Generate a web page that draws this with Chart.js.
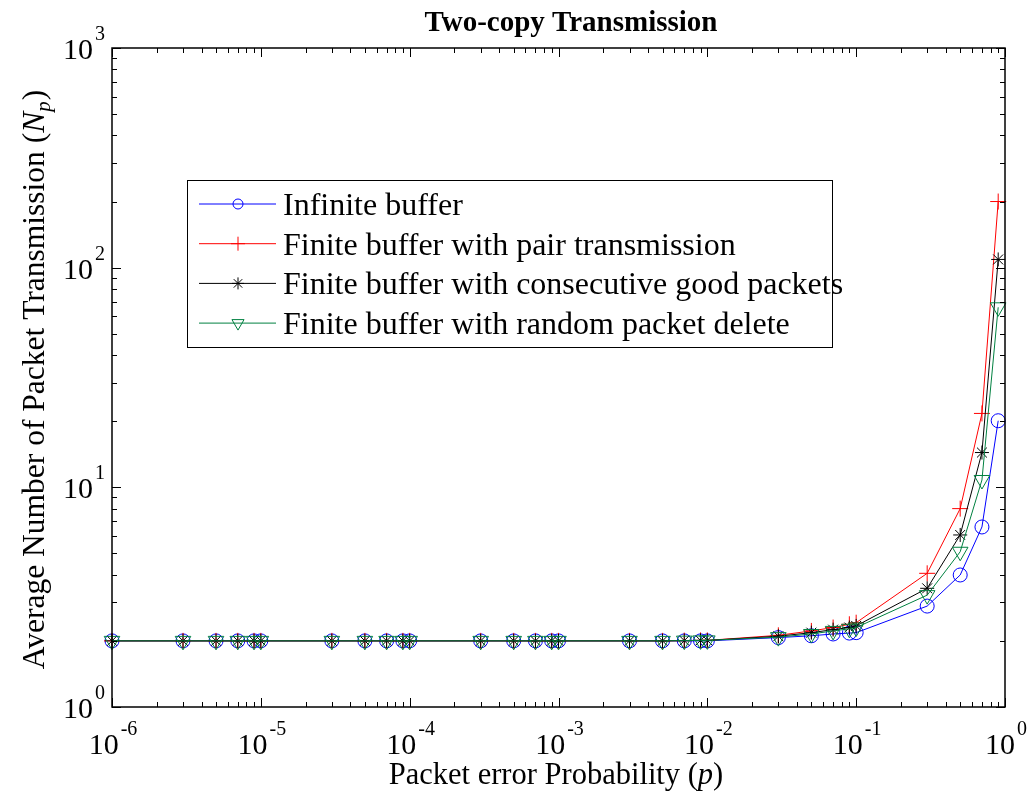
<!DOCTYPE html>
<html>
<head>
<meta charset="utf-8">
<script src="https://cdn.jsdelivr.net/npm/chart.js@4/dist/chart.umd.min.js"></script>
<style>
  html, body { margin: 0; padding: 0; background: #fff; }
  #wrap { width: 1029px; height: 799px; }
</style>
</head>
<body>
<div id="wrap"><canvas id="chart" width="1029" height="799"></canvas></div>
<script>
// packet error probability p
const pValues = [1e-6, 3e-6, 5e-6, 7e-6, 9e-6, 1e-5, 3e-5, 5e-5, 7e-5, 9e-5,
                 1e-4, 3e-4, 5e-4, 7e-4, 9e-4, 1e-3, 3e-3, 5e-3, 7e-3, 9e-3,
                 1e-2, 3e-2, 5e-2, 7e-2, 9e-2, 0.1, 0.3, 0.5, 0.7, 0.9];

const infiniteBuffer   = [2, 2, 2, 2, 2, 2, 2, 2, 2, 2, 2, 2, 2, 2, 2, 2, 2, 2, 2, 2,
                          2.0, 2.07, 2.11, 2.15, 2.17, 2.18, 2.88, 3.99, 6.6, 20.1];
const pairTransmission = [2, 2, 2, 2, 2, 2, 2, 2, 2, 2, 2, 2, 2, 2, 2, 2, 2, 2, 2.005, 2.01,
                          2.01, 2.12, 2.22, 2.3, 2.38, 2.42, 4.06, 8.0, 21.7, 200];
const consecutiveGood  = [2, 2, 2, 2, 2, 2, 2, 2, 2, 2, 2, 2, 2, 2, 2, 2, 2, 2, 2.005, 2.01,
                          2.01, 2.1, 2.18, 2.25, 2.3, 2.34, 3.47, 6.07, 14.4, 109];
const randomDelete     = [2, 2, 2, 2, 2, 2, 2, 2, 2, 2, 2, 2, 2, 2, 2, 2, 2, 2, 2.005, 2.01,
                          2.01, 2.08, 2.15, 2.22, 2.27, 2.3, 3.23, 5.09, 10.8, 66];

const seriesLabels = ['Infinite buffer', 'Finite buffer with pair transmission',
                      'Finite buffer with consecutive good packets', 'Finite buffer with random packet delete'];

// decade exponents for tick labels
const xTickExponents = [-6, -5, -4, -3, -2, -1, 0];
const yTickExponents = [0, 1, 2, 3];

const serif = '"Liberation Serif", "Times New Roman", serif';

function toPoints(values) {
    return pValues.map((p, i) => ({ x: p, y: values[i] }));
}

const styles = [
    { color: '#0000ff', pointStyle: 'circle', radius: 7, rotation: 0, legendRadius: 5 },
    { color: '#ff0000', pointStyle: 'cross', radius: 8, rotation: 0, legendRadius: 7 },
    { color: '#000000', pointStyle: 'star', radius: 7, rotation: 0, legendRadius: 6 },
    { color: '#008040', pointStyle: 'triangle', radius: 9, rotation: 180, legendRadius: 7 },
];
const seriesData = [infiniteBuffer, pairTransmission, consecutiveGood, randomDelete];

const datasets = seriesData.map((values, i) => ({
    label: seriesLabels[i],
    data: toPoints(values),
    borderColor: styles[i].color,
    backgroundColor: 'rgba(0,0,0,0)',
    pointBorderColor: styles[i].color,
    pointBackgroundColor: 'rgba(0,0,0,0)',
    pointStyle: styles[i].pointStyle,
    pointRadius: styles[i].radius,
    pointRotation: styles[i].rotation,
    pointBorderWidth: 1,
    borderWidth: 1,
    tension: 0,
    clip: false,
    order: 3 - i,
}));

function drawPower(ctx, exp, x, baseY, align) {
    ctx.font = '30px ' + serif;
    const w1 = ctx.measureText('10').width;
    ctx.font = '20px ' + serif;
    const w2 = ctx.measureText(String(exp)).width;
    let start = align === 'center' ? x - (w1 + w2) / 2 : x - (w1 + w2 + 2);
    ctx.textAlign = 'left';
    ctx.textBaseline = 'alphabetic';
    ctx.font = '30px ' + serif;
    ctx.fillText('10', start, baseY);
    ctx.font = '20px ' + serif;
    ctx.fillText(String(exp), start + w1 + 2, baseY - 19);
}

const matlabFrame = {
    id: 'matlabFrame',
    afterDatasetsDraw(chart) {
        const { ctx, chartArea: a, scales } = chart;
        const xs = scales.x, ys = scales.y;
        ctx.save();
        ctx.strokeStyle = '#000';
        ctx.fillStyle = '#000';

        // ticks, inside, on all sides
        ctx.lineWidth = 1;
        ctx.beginPath();
        for (let d = -6; d <= 0; d++) {
            for (let m = 1; m <= 9; m++) {
                const v = m * Math.pow(10, d);
                if (v > 1.0000001) break;
                const px = Math.round(xs.getPixelForValue(v)) + 0.5;
                const len = m === 1 ? 9 : 5;
                ctx.moveTo(px, a.bottom); ctx.lineTo(px, a.bottom - len);
                ctx.moveTo(px, a.top); ctx.lineTo(px, a.top + len);
            }
        }
        for (let d = 0; d <= 3; d++) {
            for (let m = 1; m <= 9; m++) {
                const v = m * Math.pow(10, d);
                if (v > 1000.0001) break;
                const py = Math.round(ys.getPixelForValue(v)) + 0.5;
                const len = m === 1 ? 9 : 5;
                ctx.moveTo(a.left, py); ctx.lineTo(a.left + len, py);
                ctx.moveTo(a.right, py); ctx.lineTo(a.right - len, py);
            }
        }
        ctx.stroke();

        // box
        ctx.lineWidth = 1.5;
        ctx.strokeRect(a.left, a.top, a.right - a.left, a.bottom - a.top);

        // tick labels
        xTickExponents.forEach((e) => {
            drawPower(ctx, e, xs.getPixelForValue(Math.pow(10, e)), 754, 'center');
        });
        yTickExponents.forEach((e) => {
            drawPower(ctx, e, 105, ys.getPixelForValue(Math.pow(10, e)) + 11, 'right');
        });

        // title
        ctx.font = 'bold 29px ' + serif;
        ctx.textAlign = 'center';
        ctx.textBaseline = 'alphabetic';
        ctx.fillText('Two-copy Transmission', 571, 31);

        // x label
        const xa = 'Packet error Probability (';
        ctx.font = '30.5px ' + serif;
        const wa = ctx.measureText(xa).width;
        ctx.font = 'italic 30.5px ' + serif;
        const wp = ctx.measureText('p').width;
        ctx.font = '30.5px ' + serif;
        const wc = ctx.measureText(')').width;
        let sx = 556 - (wa + wp + wc) / 2;
        ctx.textAlign = 'left';
        ctx.fillText(xa, sx, 784);
        ctx.font = 'italic 30.5px ' + serif;
        ctx.fillText('p', sx + wa, 784);
        ctx.font = '30.5px ' + serif;
        ctx.fillText(')', sx + wa + wp, 784);

        // y label, rotated
        ctx.save();
        ctx.translate(44, 380);
        ctx.rotate(-Math.PI / 2);
        const ya = 'Average Number of Packet Transmission (';
        ctx.font = '31.5px ' + serif;
        const wya = ctx.measureText(ya).width;
        ctx.font = 'italic 31.5px ' + serif;
        const wN = ctx.measureText('N').width;
        ctx.font = 'italic 21px ' + serif;
        const wsub = ctx.measureText('p').width;
        ctx.font = '31.5px ' + serif;
        const wyc = ctx.measureText(')').width;
        let sy = -(wya + wN + wsub + wyc) / 2;
        ctx.fillText(ya, sy, 0);
        ctx.font = 'italic 31.5px ' + serif;
        ctx.fillText('N', sy + wya, 0);
        ctx.font = 'italic 21px ' + serif;
        ctx.fillText('p', sy + wya + wN, 6);
        ctx.font = '31.5px ' + serif;
        ctx.fillText(')', sy + wya + wN + wsub + 1, 0);
        ctx.restore();

        // legend
        ctx.fillStyle = '#fff';
        ctx.fillRect(187, 180, 645, 167);
        ctx.strokeStyle = '#000';
        ctx.lineWidth = 1;
        ctx.strokeRect(187.5, 180.5, 645, 167);
        seriesLabels.forEach((label, i) => {
            const ly = 204 + i * 39.7;
            const st = styles[i];
            ctx.strokeStyle = st.color;
            ctx.fillStyle = 'rgba(0,0,0,0)';
            ctx.lineWidth = 1;
            ctx.beginPath();
            ctx.moveTo(199, ly); ctx.lineTo(276, ly);
            ctx.stroke();
            Chart.helpers.drawPoint(ctx, {
                pointStyle: st.pointStyle,
                rotation: st.rotation,
                radius: st.legendRadius,
                borderWidth: 1,
            }, 238, ly);
            ctx.fillStyle = '#000';
            ctx.font = '32px ' + serif;
            ctx.textAlign = 'left';
            ctx.textBaseline = 'alphabetic';
            ctx.fillText(label, 283, ly + 11);
        });

        ctx.restore();
    },
};

new Chart(document.getElementById('chart'), {
    type: 'line',
    data: { datasets },
    options: {
        responsive: false,
        animation: false,
        layout: { padding: { top: 48, right: 24, left: 0, bottom: 0 } },
        plugins: { legend: { display: false }, tooltip: { enabled: false }, title: { display: false } },
        scales: {
            x: {
                type: 'logarithmic',
                min: 1e-6,
                max: 1,
                grid: { display: false },
                border: { display: false },
                ticks: { display: false },
                afterFit: (s) => { s.height = 92; },
            },
            y: {
                type: 'logarithmic',
                min: 1,
                max: 1000,
                grid: { display: false },
                border: { display: false },
                ticks: { display: false },
                afterFit: (s) => { s.width = 112; },
            },
        },
    },
    plugins: [matlabFrame],
});
</script>
</body>
</html>
